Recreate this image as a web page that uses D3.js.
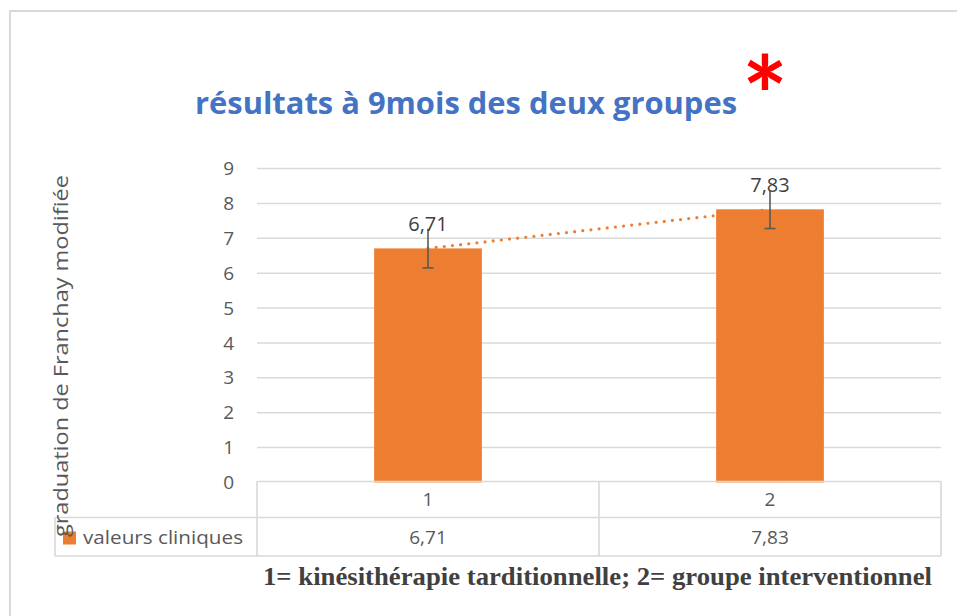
<!DOCTYPE html>
<html>
<head>
<meta charset="utf-8">
<script src="https://cdn.jsdelivr.net/npm/d3@7"></script>
<style>
  html, body { margin: 0; padding: 0; background: #fff; }
  svg { display: block; }
</style>
</head>
<body>
<svg id="chart" width="957" height="616"></svg>
<script>
// Franchay scores at 9 months, two groups
const categories = ["1", "2"];
const seriesName = "valeurs cliniques";
const values = [6.71, 7.83];
const errors = [0.56, 0.55];
const valueLabels = ["6,71", "7,83"];
const yTicks = [0, 1, 2, 3, 4, 5, 6, 7, 8, 9];
const titleText = "résultats à 9mois des deux groupes";
const yTitle = "graduation de Franchay modifiée";
const noteText = "1= kinésithérapie tarditionnelle; 2= groupe interventionnel";

const svg = d3.select("#chart");
const W = 957, H = 616;
const plot = { left: 257, right: 941, top: 168.5, bottom: 482.5 };
const orange = "#ED7D31";
const grid = "#D9D9D9";
const textGray = "#595959";
const sans = "'Open Sans', Lato, sans-serif";

// outer chart frame
svg.append("path")
  .attr("d", `M10,${H} L10,11 L${W},11`)
  .attr("fill", "none").attr("stroke", grid).attr("stroke-width", 2);

const x = d3.scaleBand().domain(categories).range([plot.left, plot.right]).paddingInner(0).paddingOuter(0);
const y = d3.scaleLinear().domain([0, 9]).range([plot.bottom, plot.top]);
const barW = x.bandwidth() * 0.315;

// horizontal gridlines
svg.append("g").selectAll("line").data(yTicks.filter(t => t > 0)).join("line")
  .attr("x1", plot.left).attr("x2", plot.right)
  .attr("y1", d => y(d)).attr("y2", d => y(d))
  .attr("stroke", grid).attr("stroke-width", 1.5);

// y axis tick labels
const yAxis = d3.axisLeft(y).tickValues(yTicks).tickSize(0).tickPadding(23).tickFormat(d3.format("d"));
const gy = svg.append("g").attr("transform", `translate(${plot.left},0)`).call(yAxis);
gy.select(".domain").remove();
gy.selectAll("text").attr("fill", textGray).style("font-family", sans).style("font-size", "19px");

// bars
svg.append("g").selectAll("rect").data(values).join("rect")
  .attr("x", (d, i) => x(categories[i]) + x.bandwidth() / 2 - barW / 2)
  .attr("y", d => y(d))
  .attr("width", barW)
  .attr("height", d => y(0) - y(d))
  .attr("fill", orange);

// linear trendline through the bar values (dotted)
const cx = i => x(categories[i]) + x.bandwidth() / 2;
const n = values.length;
const xs = values.map((d, i) => i + 1);
const mx = d3.mean(xs), my = d3.mean(values);
const slope = d3.sum(xs.map((xv, i) => (xv - mx) * (values[i] - my))) / d3.sum(xs.map(xv => (xv - mx) ** 2));
const icpt = my - slope * mx;
svg.append("line")
  .attr("x1", cx(0)).attr("y1", y(icpt + slope * 1))
  .attr("x2", cx(n - 1)).attr("y2", y(icpt + slope * n))
  .attr("stroke", orange).attr("stroke-width", 3.2)
  .attr("stroke-linecap", "round").attr("stroke-dasharray", "0 8.2");

// error bars
const eg = svg.append("g").attr("stroke", textGray).attr("stroke-width", 1.6);
values.forEach((v, i) => {
  const c = cx(i);
  eg.append("line").attr("x1", c).attr("x2", c).attr("y1", y(v + errors[i])).attr("y2", y(v - errors[i]));
  eg.append("line").attr("x1", c - 5.5).attr("x2", c + 5.5).attr("y1", y(v - errors[i])).attr("y2", y(v - errors[i]));
});

// value labels above bars
svg.append("g").selectAll("text").data(values).join("text")
  .attr("x", (d, i) => cx(i))
  .attr("y", d => y(d) - 17)
  .attr("text-anchor", "middle")
  .attr("fill", "#404040")
  .style("font-family", sans).style("font-size", "20px")
  .text((d, i) => valueLabels[i]);

// data table under the plot
const tbl = svg.append("g").attr("stroke", grid).attr("stroke-width", 1.6).attr("fill", "none");
const rowTop = plot.bottom - 1, rowMid = 517.5, rowBot = 556;
tbl.append("line").attr("x1", plot.left).attr("x2", plot.right).attr("y1", rowTop).attr("y2", rowTop);
tbl.append("line").attr("x1", 55).attr("x2", plot.right).attr("y1", rowMid).attr("y2", rowMid);
tbl.append("line").attr("x1", 55).attr("x2", plot.right).attr("y1", rowBot).attr("y2", rowBot);
tbl.append("line").attr("x1", 55).attr("x2", 55).attr("y1", rowMid).attr("y2", rowBot);
[plot.left, x("2"), plot.right].forEach(xv => {
  tbl.append("line").attr("x1", xv).attr("x2", xv).attr("y1", rowTop).attr("y2", rowBot);
});

// category row
svg.append("g").selectAll("text").data(categories).join("text")
  .attr("x", (d, i) => cx(i)).attr("y", 506)
  .attr("text-anchor", "middle").attr("fill", textGray)
  .style("font-family", sans).style("font-size", "19px")
  .text(d => d);

// values row
svg.append("g").selectAll("text").data(values).join("text")
  .attr("x", (d, i) => cx(i)).attr("y", 543.5)
  .attr("text-anchor", "middle").attr("fill", textGray)
  .style("font-family", sans).style("font-size", "19px")
  .text((d, i) => valueLabels[i]);

// legend key + series name
svg.append("rect").attr("x", 63).attr("y", 531.5).attr("width", 13).attr("height", 13).attr("fill", orange);
svg.append("text").attr("x", 83).attr("y", 543.5)
  .attr("fill", textGray)
  .attr("textLength", 160).attr("lengthAdjust", "spacingAndGlyphs")
  .style("font-family", sans).style("font-size", "19px")
  .text(seriesName);

// y axis title
svg.append("text")
  .attr("transform", "translate(68,537) rotate(-90)")
  .attr("x", 0).attr("y", 0)
  .attr("fill", textGray)
  .attr("textLength", 362).attr("lengthAdjust", "spacingAndGlyphs")
  .style("font-family", sans).style("font-size", "19.5px")
  .text(yTitle);

// chart title
svg.append("text")
  .attr("x", 195).attr("y", 114)
  .attr("fill", "#4472C4")
  .attr("textLength", 542).attr("lengthAdjust", "spacingAndGlyphs")
  .style("font-family", sans).style("font-weight", "bold").style("font-size", "29.5px")
  .text(titleText);

// significance marker
svg.append("text")
  .attr("x", 765).attr("y", 135)
  .attr("text-anchor", "middle")
  .attr("fill", "#FF0000")
  .style("font-family", "Lato, sans-serif").style("font-weight", "bold").style("font-size", "108px")
  .text("*");

// footnote
svg.append("text")
  .attr("x", 263).attr("y", 585)
  .attr("fill", "#404040")
  .attr("textLength", 669).attr("lengthAdjust", "spacingAndGlyphs")
  .style("font-family", "'Liberation Serif', 'Times New Roman', serif")
  .style("font-weight", "bold").style("font-size", "26px")
  .text(noteText);
</script>
</body>
</html>
